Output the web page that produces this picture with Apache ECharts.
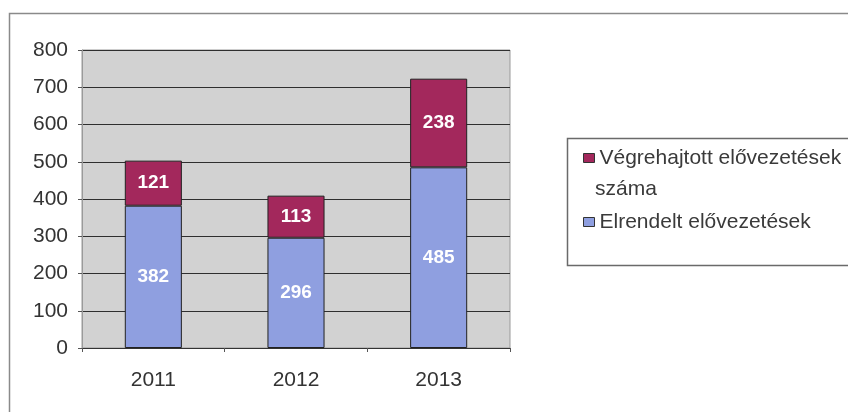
<!doctype html>
<html>
<head>
<meta charset="utf-8" />
<style>
  html, body { margin: 0; padding: 0; background: #ffffff; }
  #chart { width: 848px; height: 412px; }
</style>
<script src="https://cdn.jsdelivr.net/npm/echarts@6/dist/echarts.min.js"></script>
</head>
<body>
<div id="chart"></div>
<script>
const FONT = "Arial, 'Liberation Sans', sans-serif";

const years = ["2011", "2012", "2013"];
const ordered = [382, 296, 485];   // Elrendelt elővezetések
const executed = [121, 113, 238];  // Végrehajtott elővezetések száma
const yTicks = [0, 100, 200, 300, 400, 500, 600, 700, 800];
const orderedName = "Elrendelt elővezetések";
const executedName = "Végrehajtott elővezetések száma";

const chart = echarts.init(document.getElementById("chart"), null, { renderer: "canvas" });

const barLabel = {
  show: true,
  position: "inside",
  color: "#ffffff",
  fontFamily: FONT,
  fontWeight: "bold",
  fontSize: 19,
};

chart.setOption({
  animation: false,
  backgroundColor: "#ffffff",
  graphic: [
    { type: "rect", shape: { x: 9.5, y: 13.5, width: 900, height: 500 },
      style: { fill: "none", stroke: "#8a8a8a", lineWidth: 1.5 }, z: -10 },
    { type: "rect", shape: { x: 567.5, y: 138.5, width: 300, height: 127 },
      style: { fill: "#ffffff", stroke: "#6a6a6a", lineWidth: 1.5 }, z: -5 },
    // second line of the wrapped legend entry
    { type: "text", x: 595, y: 189,
      style: { text: "száma", font: "21px " + FONT, fill: "#3a3a3a", verticalAlign: "middle" } },
  ],
  grid: {
    left: 82, right: 338, top: 50, bottom: 64,
    show: true,
    backgroundColor: "#d2d2d2",
    borderColor: "#9a9a9a",
    borderWidth: 1,
  },
  legend: {
    orient: "vertical",
    left: 578,
    top: 141,
    itemWidth: 11,
    itemHeight: 9,
    itemGap: 40,
    icon: "rect",
    data: [executedName, orderedName],
    formatter: (name) => (name === executedName ? "Végrehajtott elővezetések" : name),
    textStyle: { fontFamily: FONT, fontSize: 21, color: "#3a3a3a", lineHeight: 24 },
    itemStyle: { borderColor: "#333333", borderWidth: 1 },
  },
  xAxis: {
    type: "category",
    data: years,
    axisLine: { lineStyle: { color: "#333333", width: 1 } },
    axisTick: { show: true, alignWithLabel: false, length: 4, lineStyle: { color: "#555555" } },
    axisLabel: { fontFamily: FONT, fontSize: 21, color: "#333333", margin: 22 },
  },
  yAxis: {
    type: "value",
    min: 0,
    max: 800,
    interval: 100,
    axisLine: { show: true, lineStyle: { color: "#9a9a9a" } },
    axisTick: { show: true, length: 4, lineStyle: { color: "#555555" } },
    axisLabel: {
      fontFamily: FONT, fontSize: 21, color: "#333333", margin: 14,
      formatter: (v) => (yTicks.includes(v) ? String(v) : ""),
    },
    splitLine: { lineStyle: { color: "#2f2f2f", width: 1 } },
  },
  series: [
    {
      name: orderedName,
      type: "bar",
      stack: "total",
      data: ordered,
      barWidth: "40%",
      itemStyle: { color: "#8f9fe0", borderColor: "#222222", borderWidth: 1 },
      label: barLabel,
    },
    {
      name: executedName,
      type: "bar",
      stack: "total",
      data: executed,
      barWidth: "40%",
      itemStyle: { color: "#a3285c", borderColor: "#222222", borderWidth: 1 },
      label: barLabel,
    },
  ],
});
</script>
</body>
</html>
